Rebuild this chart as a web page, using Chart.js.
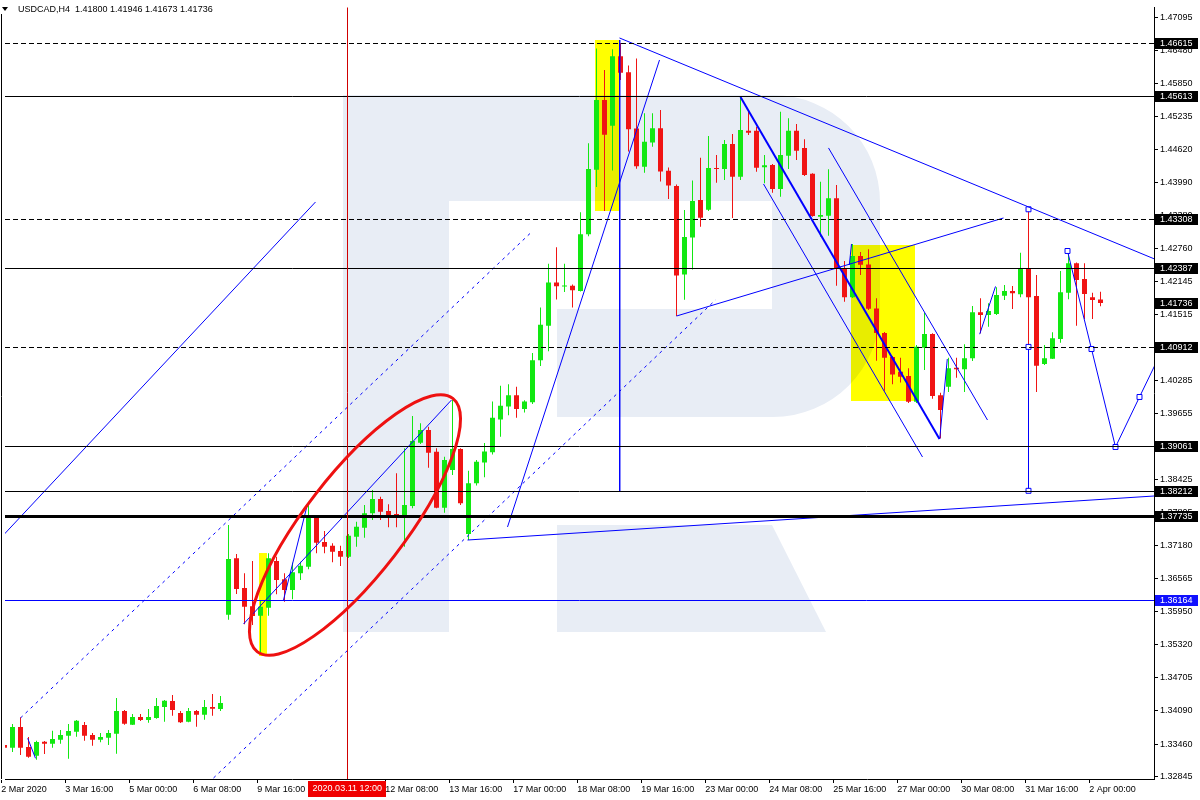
<!DOCTYPE html>
<html>
<head>
<meta charset="utf-8">
<title>USDCAD,H4</title>
<script src="https://cdn.jsdelivr.net/npm/chart.js@4.4.1/dist/chart.umd.min.js"></script>
<style>
  html, body { margin: 0; padding: 0; background: #fff; }
  #wrap { width: 1200px; height: 800px; }
</style>
</head>
<body>
<div id="wrap"><canvas id="chart" width="1200" height="800"></canvas></div>
<script>
// --- data ---
const symbol = 'USDCAD,H4';

const opens = [
  1.33444, 1.33393, 1.33782, 1.33406, 1.33243, 1.33506, 1.33468, 1.33543, 1.33618, 1.33693,
  1.33819, 1.33631, 1.33543, 1.33581, 1.33656, 1.34082, 1.33825, 1.33969, 1.33913, 1.33950,
  1.34157, 1.34269, 1.34044, 1.33881, 1.34082, 1.34012, 1.34157, 1.34119, 1.35888, 1.36946,
  1.36389, 1.36045, 1.35869, 1.36019, 1.36895, 1.36552, 1.36351, 1.36664, 1.36789, 1.37707,
  1.37252, 1.37182, 1.37083, 1.36976, 1.37351, 1.37520, 1.37790, 1.38058, 1.37833, 1.37777,
  1.37758, 1.37927, 1.39114, 1.39353, 1.38946, 1.37895, 1.38603, 1.38996, 1.37402, 1.38353,
  1.38743, 1.38936, 1.39550, 1.39795, 1.40003, 1.39745, 1.39874, 1.40662, 1.41307, 1.42122,
  1.42045, 1.42058, 1.41960, 1.43026, 1.44234, 1.45545, 1.45061, 1.46365, 1.46063, 1.45009,
  1.44292, 1.44744, 1.45013, 1.44215, 1.43930, 1.42272, 1.42962, 1.43668, 1.43486, 1.44268,
  1.44249, 1.44718, 1.44105, 1.44968, 1.44968, 1.44281, 1.44324, 1.43874, 1.44499, 1.44968,
  1.44643, 1.44161, 1.43354, 1.43370, 1.43699, 1.42373, 1.41842, 1.42617, 1.42458, 1.41632,
  1.41172, 1.40722, 1.40446, 1.40366, 1.39884, 1.40897, 1.41154, 1.40003, 1.40165, 1.40521,
  1.40491, 1.40698, 1.41561, 1.41510, 1.41529, 1.41872, 1.41960, 1.41898, 1.42386, 1.41867,
  1.40591, 1.40691, 1.41060, 1.41928, 1.42480, 1.42186, 1.41842, 1.41800
];
const highs = [
  1.33551, 1.33838, 1.33964, 1.33594, 1.33525, 1.33519, 1.33712, 1.33725, 1.33838, 1.33913,
  1.33875, 1.33669, 1.33669, 1.33725, 1.34326, 1.34100, 1.34025, 1.34025, 1.34119, 1.34326,
  1.34288, 1.34382, 1.34082, 1.34138, 1.34100, 1.34288, 1.34401, 1.34363, 1.37571, 1.37026,
  1.36664, 1.36895, 1.36164, 1.37040, 1.36976, 1.36664, 1.36863, 1.36882, 1.37978, 1.37726,
  1.37458, 1.37227, 1.37182, 1.37402, 1.37632, 1.37946, 1.38227, 1.38101, 1.37959, 1.38540,
  1.39009, 1.39615, 1.39478, 1.39415, 1.39009, 1.38852, 1.39916, 1.39010, 1.38589, 1.38790,
  1.39111, 1.39887, 1.40184, 1.40210, 1.40165, 1.39912, 1.40797, 1.41651, 1.42471, 1.42780,
  1.42471, 1.42083, 1.43439, 1.44731, 1.46508, 1.46108, 1.46495, 1.46615, 1.46191, 1.46320,
  1.45294, 1.45296, 1.45354, 1.44279, 1.43960, 1.43480, 1.44031, 1.44461, 1.44868, 1.44512,
  1.44793, 1.44906, 1.45613, 1.45324, 1.45043, 1.44512, 1.44343, 1.45324, 1.45200, 1.45093,
  1.44806, 1.44170, 1.44011, 1.44245, 1.43949, 1.42523, 1.42842, 1.42692, 1.42743, 1.41823,
  1.41191, 1.40740, 1.40709, 1.40510, 1.40947, 1.41553, 1.41170, 1.40052, 1.40709, 1.40709,
  1.40960, 1.41679, 1.41823, 1.41730, 1.42030, 1.42073, 1.42054, 1.42679, 1.43493, 1.42260,
  1.40947, 1.41186, 1.42336, 1.42698, 1.42495, 1.42480, 1.41928, 1.41946
];
const lows = [
  1.33149, 1.33313, 1.33256, 1.33206, 1.33168, 1.33275, 1.33393, 1.33468, 1.33187, 1.33600,
  1.33525, 1.33431, 1.33495, 1.33444, 1.33281, 1.33825, 1.33820, 1.33894, 1.33862, 1.33937,
  1.33881, 1.33994, 1.33857, 1.33870, 1.33787, 1.33918, 1.33994, 1.34082, 1.35794, 1.36276,
  1.35708, 1.35695, 1.35132, 1.35869, 1.36270, 1.36132, 1.36177, 1.36539, 1.36740, 1.37040,
  1.37040, 1.36871, 1.36801, 1.36952, 1.37163, 1.37332, 1.37664, 1.37664, 1.37527, 1.37527,
  1.37163, 1.37884, 1.39090, 1.38645, 1.37884, 1.37801, 1.38508, 1.37946, 1.37289, 1.38310,
  1.38465, 1.38891, 1.39227, 1.39629, 1.39583, 1.39679, 1.39840, 1.40553, 1.40829, 1.41799,
  1.41942, 1.41651, 1.41950, 1.42987, 1.43911, 1.43459, 1.44221, 1.45919, 1.44577, 1.44253,
  1.44180, 1.44668, 1.44015, 1.43686, 1.41491, 1.41795, 1.42364, 1.43167, 1.43462, 1.43992,
  1.44043, 1.43330, 1.44043, 1.44887, 1.44199, 1.43981, 1.43804, 1.43729, 1.44249, 1.44418,
  1.44118, 1.43354, 1.42979, 1.42998, 1.42060, 1.41760, 1.41830, 1.42261, 1.41604, 1.40653,
  1.40090, 1.40210, 1.40246, 1.39860, 1.39860, 1.40478, 1.39940, 1.39197, 1.40066, 1.40334,
  1.40066, 1.40647, 1.41167, 1.41291, 1.41510, 1.41792, 1.41623, 1.41842, 1.40912, 1.40066,
  1.40572, 1.40685, 1.40991, 1.41805, 1.41309, 1.41435, 1.41435, 1.41673
];
const closes = [
  1.33393, 1.33782, 1.33393, 1.33224, 1.33500, 1.33468, 1.33556, 1.33631, 1.33706, 1.33900,
  1.33618, 1.33543, 1.33594, 1.33669, 1.34082, 1.33843, 1.33969, 1.33913, 1.33969, 1.34175,
  1.34275, 1.34100, 1.33870, 1.34082, 1.34012, 1.34157, 1.34125, 1.34232, 1.36933, 1.36370,
  1.36038, 1.35863, 1.36038, 1.36946, 1.36539, 1.36351, 1.36683, 1.36807, 1.37707, 1.37238,
  1.37163, 1.37070, 1.36976, 1.37370, 1.37539, 1.37790, 1.38058, 1.37820, 1.37758, 1.37758,
  1.37946, 1.39146, 1.39353, 1.38927, 1.37895, 1.38790, 1.38996, 1.37978, 1.38353, 1.38758,
  1.38949, 1.39583, 1.39809, 1.40003, 1.39745, 1.39887, 1.40662, 1.41326, 1.42122, 1.42050,
  1.42063, 1.41973, 1.43026, 1.44247, 1.45545, 1.44893, 1.46365, 1.46056, 1.44996, 1.44300,
  1.44761, 1.45013, 1.44200, 1.43940, 1.42249, 1.42973, 1.43649, 1.43335, 1.44268, 1.44249,
  1.44718, 1.44105, 1.44981, 1.44930, 1.44274, 1.44318, 1.43874, 1.44512, 1.44968, 1.44592,
  1.44136, 1.43367, 1.43386, 1.43699, 1.42373, 1.41842, 1.42617, 1.42454, 1.41628, 1.41172,
  1.40709, 1.40396, 1.40353, 1.39884, 1.40915, 1.41154, 1.39990, 1.39728, 1.40510, 1.40491,
  1.40698, 1.41561, 1.41510, 1.41585, 1.41885, 1.41960, 1.41917, 1.42386, 1.41842, 1.40559,
  1.40698, 1.41073, 1.41936, 1.42480, 1.42167, 1.41904, 1.41793, 1.41736
];

// time axis: bar index of each label and its text
const timeTickIdx = [0, 8, 16, 24, 32, 48, 56, 64, 72, 80, 88, 96, 104, 112, 120, 128, 136];
const timeTickText = ['2 Mar 2020', '3 Mar 16:00', '5 Mar 00:00', '6 Mar 08:00', '9 Mar 16:00',
  '12 Mar 08:00', '13 Mar 16:00', '17 Mar 00:00', '18 Mar 08:00', '19 Mar 16:00', '23 Mar 00:00',
  '24 Mar 08:00', '25 Mar 16:00', '27 Mar 00:00', '30 Mar 08:00', '31 Mar 16:00', '2 Apr 00:00'];
const crosshairIdx = 42.85;
const crosshairText = '2020.03.11 12:00';

// price axis
const priceTicks = [1.47095, 1.46480, 1.45850, 1.45235, 1.44620, 1.43990, 1.43380, 1.42760, 1.42145,
  1.41515, 1.40910, 1.40285, 1.39655, 1.39045, 1.38425, 1.37805, 1.37180, 1.36565, 1.35950,
  1.35320, 1.34705, 1.34090, 1.33460, 1.32845];

// horizontal levels
const solidLevels = [1.45613, 1.42387, 1.39061, 1.38212];
const dashedLevels = [1.46615, 1.43308, 1.40912];
const thickLevels = [1.37735];
const blueLevels = [1.36164];
const priceTags = [1.46615, 1.45613, 1.43308, 1.42387, 1.41736, 1.40912, 1.39061, 1.38212, 1.37735];
const blueTags = [1.36164];

// drawn objects, as [bar index, price]
const fanLine = [[-0.125, 1.37383], [38.875, 1.43630]];
const channelUpper = [[2.0, 1.33950], [65.75, 1.43048]];
const channelLower = [[26.125, 1.32824], [88.875, 1.41792]];
const ellipseLine = [[29.875, 1.35713], [55.875, 1.39916]];
const zigA = [[34.875, 1.36164], [37.875, 1.37964]];
const zigStart = [[2.9, 1.33569], [3.875, 1.33194]];
const supportLine = [[57.875, 1.37289], [143.75, 1.38115]];
const steepLine = [[62.875, 1.37533], [81.875, 1.46294]];
const peakDrop = [[76.9, 1.46669], [76.9, 1.38190]];
const topTrend = [[76.875, 1.46707], [143.75, 1.42561]];
const thickDown = [[92, 1.45600], [116.875, 1.39184]];
const downChLow = [[94.875, 1.43968], [114.75, 1.38846]];
const downChHigh = [[103, 1.44644], [122.875, 1.39540]];
const riseLine = [[84, 1.41491], [124.875, 1.43330]];
const tick105 = [[105.875, 1.42842], [105.6, 1.42448]];
const bounceA = [[116.9, 1.39184], [117.85, 1.40685]];
const bounceB = [[121.9, 1.41150], [123.875, 1.42046]];
const spikeMarks = [[128, 1.43493], [128, 1.40912], [128, 1.38212]];
const forecast = [[132.875, 1.42711], [135.875, 1.40872], [138.875, 1.39034], [141.875, 1.39972], [143.75, 1.40553]];

// [start idx, end idx, top price, bottom price]
const yellowBoxes = [[31.8, 32.8, 1.37045, 1.35113], [73.8, 76.8, 1.46669, 1.43461], [105.8, 113.8, 1.42823, 1.39899]];
// ellipse: centre, end of long axis, end of short axis
const ellipseCenter = [43.81, 1.37571];
const ellipseMajor = [56.04, 1.39946];
const ellipseMinor = [48.76, 1.36997];

// --- look ---
const GREEN = '#12e812';
const RED = '#f01414';
const BLUE = '#0000ff';
const FONT = '9px "Liberation Sans", Arial, sans-serif';
// chart window scaling: 8 px per bar (bar 0 on pixel 4.5), price at canvas row 0 and price per row
const BAR_PX = 8, BAR0_PX = 4.5;
const ROW0_PRICE = 1.474195, ROW_PRICE = 0.0001876;

Chart.defaults.font.family = '"Liberation Sans", Arial, sans-serif';
Chart.defaults.font.size = 9;
Chart.defaults.color = '#000';

const idx = opens.map((_, i) => i);
const barColors = idx.map(i => closes[i] >= opens[i] ? GREEN : RED);

const wickSet = {
  type: 'bar', order: 10, grouped: false, barThickness: 1, inflateAmount: 0,
  data: idx.map(i => ({ x: i, y: [lows[i], highs[i]] })),
  backgroundColor: barColors
};
const bodySet = {
  type: 'bar', order: 9, grouped: false, barThickness: 5, inflateAmount: 0, minBarLength: 1,
  data: idx.map(i => ({ x: i, y: [opens[i], closes[i]] })),
  backgroundColor: barColors
};

function lineSet(points, opts) {
  return Object.assign({
    type: 'line', order: 1,
    data: points.map(p => ({ x: p[0], y: p[1] })),
    borderColor: BLUE, borderWidth: 1, fill: false, tension: 0,
    pointRadius: 0, pointStyle: 'rect', pointBackgroundColor: '#fff',
    pointBorderColor: BLUE, pointBorderWidth: 1
  }, opts || {});
}

const trendSets = [
  lineSet(fanLine),
  lineSet(channelUpper, { borderDash: [3, 4] }),
  lineSet(channelLower, { borderDash: [3, 4] }),
  lineSet(ellipseLine),
  lineSet(zigA),
  lineSet(zigStart),
  lineSet(supportLine),
  lineSet(steepLine),
  lineSet(peakDrop),
  lineSet(topTrend),
  lineSet(thickDown, { borderWidth: 2 }),
  lineSet(downChLow),
  lineSet(downChHigh),
  lineSet(riseLine),
  lineSet(tick105),
  lineSet(bounceA),
  lineSet(bounceB),
  lineSet(spikeMarks, { pointRadius: 3.5,
    segment: { borderColor: c => c.p0DataIndex === 0 ? 'rgba(0,0,0,0)' : BLUE } }),
  lineSet(forecast, { pointRadius: [3.5, 3.5, 3.5, 3.5, 0] })
];

function drawLogo(ctx, a) {
  const ox = a.left + 342, oy = a.top + 94;
  ctx.fillStyle = '#e8edf5';
  ctx.beginPath();
  ctx.moveTo(ox, oy);
  ctx.lineTo(ox + 430, oy);
  ctx.arcTo(ox + 537, oy, ox + 537, oy + 107, 107);
  ctx.lineTo(ox + 537, oy + 215);
  ctx.arcTo(ox + 537, oy + 322, ox + 430, oy + 322, 107);
  ctx.lineTo(ox + 106, oy + 322);
  ctx.lineTo(ox + 106, oy + 537);
  ctx.lineTo(ox, oy + 537);
  ctx.closePath();
  ctx.fill();
  ctx.fillStyle = '#fff';
  ctx.fillRect(ox + 106, oy + 106, 323, 108);
  ctx.fillRect(ox + 106, oy + 214, 108, 108);
  ctx.fillStyle = '#e8edf5';
  ctx.beginPath();
  ctx.moveTo(ox + 214, oy + 430);
  ctx.lineTo(ox + 429, oy + 430);
  ctx.lineTo(ox + 483, oy + 537);
  ctx.lineTo(ox + 214, oy + 537);
  ctx.closePath();
  ctx.fill();
}

const mt4Decor = {
  id: 'mt4Decor',
  beforeDatasetsDraw(chart) {
    const { ctx, chartArea: a, scales: { x, y } } = chart;
    ctx.save();
    ctx.beginPath();
    ctx.rect(a.left, a.top, a.width, a.height);
    ctx.clip();
    drawLogo(ctx, { left: 1, top: 1 });
    ctx.globalCompositeOperation = 'multiply';
    ctx.fillStyle = '#ffff00';
    yellowBoxes.forEach(([i0, i1, p0, p1]) => {
      const x0 = Math.round(x.getPixelForValue(i0)), x1 = Math.round(x.getPixelForValue(i1));
      const y0 = Math.round(y.getPixelForValue(p0)), y1 = Math.round(y.getPixelForValue(p1));
      ctx.fillRect(x0, y0, x1 - x0, y1 - y0);
    });
    ctx.restore();
  },
  afterDatasetsDraw(chart) {
    const { ctx, chartArea: a, scales: { x, y } } = chart;
    ctx.save();
    ctx.beginPath();
    ctx.rect(a.left, a.top, a.width, a.height);
    ctx.clip();

    const hline = (v, color, width, dash) => {
      let py = Math.round(y.getPixelForValue(v));
      if (width % 2) py += 0.5;
      ctx.strokeStyle = color;
      ctx.lineWidth = width;
      ctx.setLineDash(dash);
      ctx.beginPath();
      ctx.moveTo(a.left, py);
      ctx.lineTo(a.right, py);
      ctx.stroke();
    };
    solidLevels.forEach(v => hline(v, '#000', 1, []));
    dashedLevels.forEach(v => hline(v, '#000', 1, [5, 3]));
    thickLevels.forEach(v => hline(v, '#000', 3, []));
    blueLevels.forEach(v => hline(v, BLUE, 1, []));
    ctx.setLineDash([]);

    // crosshair
    const cx = Math.round(x.getPixelForValue(crosshairIdx)) + 0.5;
    ctx.strokeStyle = '#d00000';
    ctx.lineWidth = 1;
    ctx.beginPath();
    ctx.moveTo(cx, 0);
    ctx.lineTo(cx, a.bottom);
    ctx.stroke();

    // ellipse
    const px = p => ({ x: x.getPixelForValue(p[0]), y: y.getPixelForValue(p[1]) });
    const c = px(ellipseCenter), m = px(ellipseMajor), n = px(ellipseMinor);
    const ra = Math.hypot(m.x - c.x, m.y - c.y);
    const rb = Math.hypot(n.x - c.x, n.y - c.y);
    ctx.strokeStyle = '#ee1111';
    ctx.lineWidth = 3;
    ctx.beginPath();
    ctx.ellipse(c.x, c.y, ra, rb, Math.atan2(m.y - c.y, m.x - c.x), 0, Math.PI * 2);
    ctx.stroke();
    ctx.restore();
  },
  afterDraw(chart) {
    const { ctx, chartArea: a, scales: { x, y } } = chart;
    ctx.save();
    // left frame edge
    ctx.strokeStyle = '#000';
    ctx.lineWidth = 1;
    ctx.beginPath();
    ctx.moveTo(1.5, 14);
    ctx.lineTo(1.5, a.bottom);
    ctx.stroke();

    // price tags on the axis
    ctx.font = FONT;
    ctx.textBaseline = 'middle';
    ctx.textAlign = 'left';
    const tag = (v, bg) => {
      const py = Math.round(y.getPixelForValue(v));
      ctx.fillStyle = bg;
      ctx.fillRect(a.right + 1, py - 5, 43, 11);
      ctx.fillStyle = '#fff';
      ctx.fillText(v.toFixed(5), a.right + 6, py + 0.5);
    };
    priceTags.forEach(v => tag(v, '#000'));
    blueTags.forEach(v => tag(v, '#1010ff'));

    // crosshair time label
    const cx = x.getPixelForValue(crosshairIdx);
    ctx.fillStyle = '#f00000';
    ctx.fillRect(Math.round(cx - 39), a.bottom + 2, 78, 16);
    ctx.fillStyle = '#fff';
    ctx.textAlign = 'center';
    ctx.fillText(crosshairText, cx, a.bottom + 10);

    // header
    const last = opens.length - 1;
    ctx.fillStyle = '#000';
    ctx.beginPath();
    ctx.moveTo(2, 7);
    ctx.lineTo(8, 7);
    ctx.lineTo(5, 11);
    ctx.closePath();
    ctx.fill();
    ctx.textAlign = 'left';
    const ohlc = [opens[last], highs[last], lows[last], closes[last]].map(v => v.toFixed(5)).join(' ');
    ctx.fillText(symbol + '  ' + ohlc, 18, 10);
    ctx.restore();
  }
};

const chart = new Chart(document.getElementById('chart'), {
  type: 'bar',
  data: { datasets: [wickSet, bodySet, ...trendSets] },
  options: {
    responsive: false,
    animation: false,
    devicePixelRatio: 1,
    events: [],
    layout: { padding: { top: 1, left: 1, right: 0, bottom: 0 } },
    plugins: { legend: { display: false }, tooltip: { enabled: false } },
    scales: {
      x: {
        type: 'linear', min: -0.4375, max: 143.6875, offset: false,
        grid: { drawOnChartArea: false, drawTicks: true, tickLength: 4, color: '#000', offset: false },
        border: { display: true, color: '#000' },
        ticks: {
          autoSkip: false, maxRotation: 0, align: 'start', padding: 1, color: '#000',
          callback: (v, i) => timeTickText[i]
        },
        afterBuildTicks: s => { s.ticks = timeTickIdx.map(i => ({ value: i - 0.4 })); },
        afterFit: s => { s.height = 21; }
      },
      y: {
        type: 'linear', position: 'right', min: 1.32806, max: 1.47401,
        grid: { drawOnChartArea: false, drawTicks: true, tickLength: 4, color: '#000' },
        border: { display: true, color: '#000' },
        ticks: { autoSkip: false, padding: 2, color: '#000', callback: v => v.toFixed(5) },
        afterBuildTicks: s => { s.ticks = priceTicks.map(v => ({ value: v })); },
        afterFit: s => { s.width = 46; }
      }
    }
  },
  plugins: [mt4Decor]
});

// match the terminal's pixel scaling to whatever plot area the layout produced
const area = chart.chartArea;
chart.options.scales.x.min = (area.left - BAR0_PX) / BAR_PX;
chart.options.scales.x.max = (area.right - BAR0_PX) / BAR_PX;
chart.options.scales.y.max = ROW0_PRICE - ROW_PRICE * area.top;
chart.options.scales.y.min = ROW0_PRICE - ROW_PRICE * area.bottom;
chart.update('none');
</script>
</body>
</html>
